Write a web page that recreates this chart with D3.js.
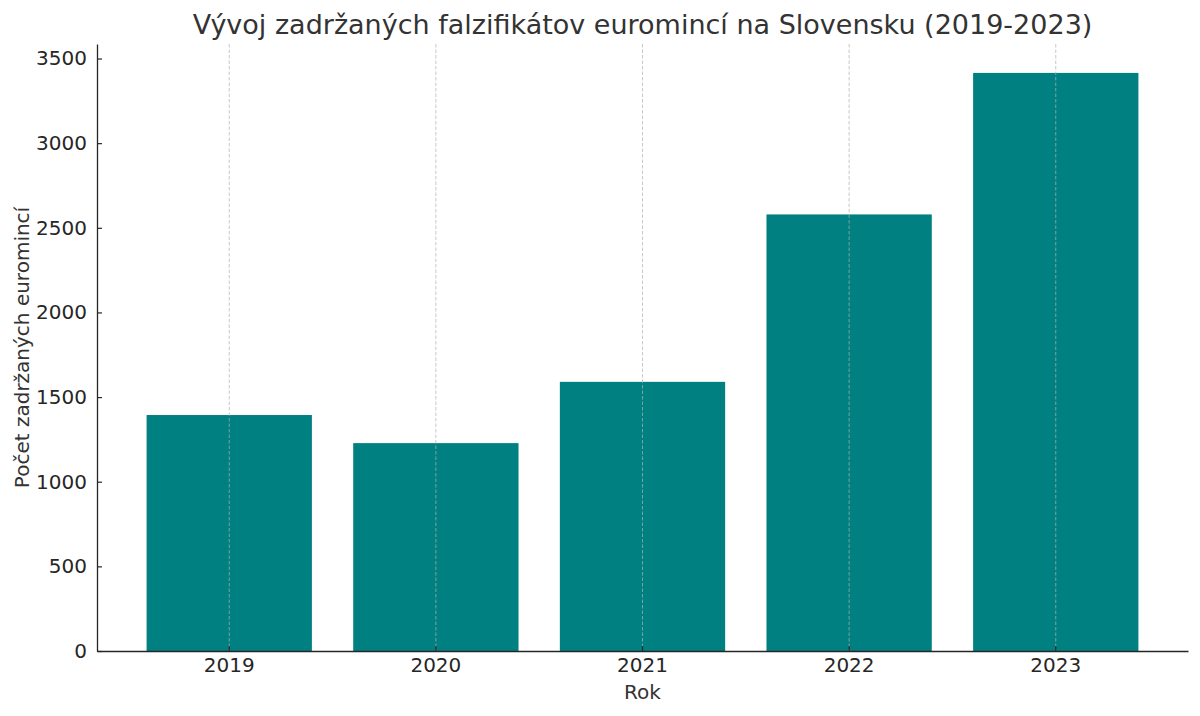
<!DOCTYPE html>
<html>
<head>
<meta charset="utf-8">
<script src="https://cdn.jsdelivr.net/npm/d3@7"></script>
<style>
  body { margin: 0; background: #fff; }
  svg text { font-family: "DejaVu Sans", sans-serif; fill: #333; }
</style>
</head>
<body>
<div id="chart"></div>
<script>
// data
var years = ["2019", "2020", "2021", "2022", "2023"];
var counts = [1394, 1228, 1590, 2579, 3415];
var yTicks = [0, 500, 1000, 1500, 2000, 2500, 3000, 3500];

var title = "Vývoj zadržaných falzifikátov euromincí na Slovensku (2019-2023)";
var xTitle = "Rok";
var yTitle = "Počet zadržaných euromincí";

var W = 1200, H = 716;
var m = {top: 44, right: 12, bottom: 65, left: 97};
var iw = W - m.left - m.right, ih = H - m.top - m.bottom;

var svg = d3.select("#chart").append("svg")
    .attr("width", W)
    .attr("height", H);

var g = svg.append("g")
    .attr("transform", "translate(" + m.left + "," + m.top + ")");

var x = d3.scaleBand()
    .domain(years)
    .range([0, iw])
    .paddingInner(0.2)
    .paddingOuter(0.24);

var y = d3.scaleLinear()
    .domain([0, d3.max(counts) * 1.05])
    .range([ih, 0]);

// bars
g.selectAll("rect.bar")
    .data(years)
    .enter().append("rect")
    .attr("class", "bar")
    .attr("x", function(d){ return x(d); })
    .attr("width", x.bandwidth())
    .attr("y", function(d, i){ return y(counts[i]); })
    .attr("height", function(d, i){ return ih - y(counts[i]); })
    .attr("fill", "#008080");

// vertical dashed grid, drawn over the bars like the original
g.selectAll("line.grid")
    .data(years)
    .enter().append("line")
    .attr("class", "grid")
    .attr("x1", function(d){ return x(d) + x.bandwidth() / 2; })
    .attr("x2", function(d){ return x(d) + x.bandwidth() / 2; })
    .attr("y1", 0)
    .attr("y2", ih)
    .attr("stroke", "#b0b0b0")
    .attr("stroke-opacity", 0.7)
    .attr("stroke-width", 1)
    .attr("stroke-dasharray", "3.5,2");

// axes, ticks pointing inward
var xAxis = g.append("g")
    .attr("transform", "translate(0," + ih + ")")
    .call(d3.axisBottom(x).tickSize(-5).tickSizeOuter(0).tickPadding(7));

var yAxis = g.append("g")
    .call(d3.axisLeft(y).tickValues(yTicks).tickFormat(d3.format("d"))
          .tickSize(-5).tickSizeOuter(0).tickPadding(10));

[xAxis, yAxis].forEach(function(a){
    a.select(".domain").attr("stroke", "#262626").attr("stroke-width", 1.3);
    a.selectAll(".tick line").attr("stroke", "#262626").attr("stroke-width", 1.2);
    a.selectAll(".tick text").attr("font-size", 20).style("fill", "#262626");
});

// titles
svg.append("text")
    .attr("x", m.left + iw / 2)
    .attr("y", 34)
    .attr("text-anchor", "middle")
    .attr("font-size", 27)
    .text(title);

svg.append("text")
    .attr("x", m.left + iw / 2)
    .attr("y", 699)
    .attr("text-anchor", "middle")
    .attr("font-size", 20)
    .text(xTitle);

svg.append("text")
    .attr("transform", "translate(29," + (m.top + ih / 2) + ") rotate(-90)")
    .attr("text-anchor", "middle")
    .attr("font-size", 20)
    .text(yTitle);
</script>
</body>
</html>
